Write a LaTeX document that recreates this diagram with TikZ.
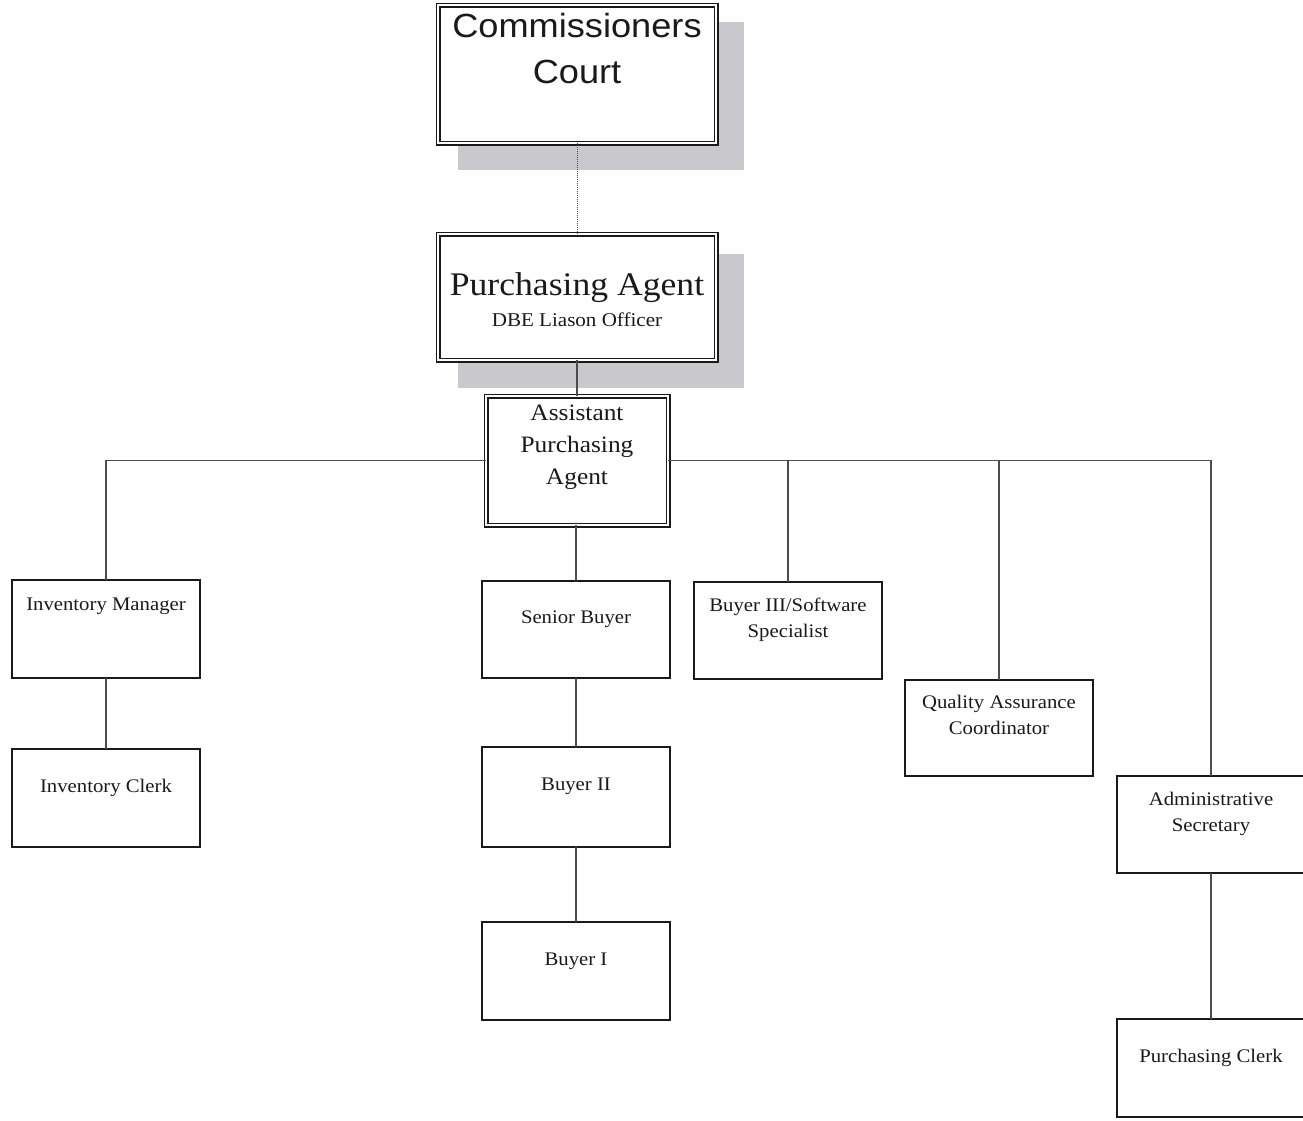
\documentclass[tikz,border=0pt]{standalone}
\usepackage{fontspec}
\setmainfont{Liberation Serif}[FakeStretch=1.08]
\newfontfamily\arialf{Liberation Sans}[FakeStretch=1.08]
\definecolor{shadowgray}{RGB}{200,200,205}
\definecolor{ink}{RGB}{26,26,26}
\begin{document}
\begin{tikzpicture}[x=1pt,y=-1pt,
  box/.style={draw=ink, line width=1.6pt, fill=white, inner sep=0pt, outer sep=0pt, minimum width=188pt},
  dbox/.style={draw=ink, line width=1.3pt, double=white, double distance=2.4pt, fill=white, inner sep=0pt, outer sep=0pt},
  conn/.style={draw=black!70, line width=1.3pt},
  dconn/.style={draw=black!70, line width=1pt, densely dotted},
  shadebox/.style={fill=shadowgray, draw=none},
  lbl/.style={inner sep=0pt, anchor=base, align=center, text=ink, font=\fontsize{19.2}{26}\selectfont},
]
\useasboundingbox (0,0) rectangle (1303,1120);
% shadows
\fill[shadebox] (458,22) rectangle (744,170);
\fill[shadebox] (458,254) rectangle (744,388);
% main boxes
\node[dbox, minimum width=278pt, minimum height=138pt] (cc) at (577,74) {};
\node[dbox, minimum width=278pt, minimum height=126pt] (pa) at (577,297) {};
\node[dbox, minimum width=182pt, minimum height=129pt] (apa) at (577,460.5) {};
\node[box, minimum height=98pt] (im) at (106,629) {};
\node[box, minimum height=98pt] (ic) at (106,798) {};
\node[box, minimum height=97pt] (sb) at (576,629.5) {};
\node[box, minimum height=100pt] (b2) at (576,797) {};
\node[box, minimum height=98pt] (b1) at (576,971) {};
\node[box, minimum height=97pt] (b3) at (788,630.5) {};
\node[box, minimum height=96pt] (qa) at (999,728) {};
\node[box, minimum height=97pt] (as) at (1211,824.5) {};
\node[box, minimum height=98pt] (pc) at (1211,1068) {};
% connectors
\draw[dconn] (cc.south) -- (pa.north);
\draw[conn] (pa.south) -- (apa.north);
\draw[conn] (apa.west) -| (im.north);
\draw[conn] (apa.east) -| (as.north);
\draw[conn] (b3.north) -- (b3.north |- apa.east);
\draw[conn] (qa.north) -- (qa.north |- apa.east);
\draw[conn] (sb.north) -- (sb.north |- apa.south);
\draw[conn] (im.south) -- (ic.north);
\draw[conn] (sb.south) -- (b2.north);
\draw[conn] (b2.south) -- (b1.north);
\draw[conn] (as.south) -- (pc.north);
% texts (base anchor = baseline of last line)
\node[lbl, font=\arialf\fontsize{33.5}{46}\selectfont] (cct) at (577,83) {Commissioners\\Court};
\node[lbl, font=\fontsize{33}{35}\selectfont] (pat) at (577,295) {Purchasing Agent};
\node[lbl, font=\fontsize{19.5}{22}\selectfont] (pat2) at (577,326) {DBE Liason Officer};
\node[lbl, font=\fontsize{23.5}{32}\selectfont] (apat) at (577,484) {Assistant\\Purchasing\\Agent};
\node[lbl] (imt) at (106,610) {Inventory Manager};
\node[lbl] (ict) at (106,792) {Inventory Clerk};
\node[lbl] (sbt) at (576,623) {Senior Buyer};
\node[lbl] (b2t) at (576,790) {Buyer II};
\node[lbl] (b1t) at (576,965) {Buyer I};
\node[lbl] (b3t) at (788,637) {Buyer III/Software\\Specialist};
\node[lbl] (qat) at (999,734) {Quality Assurance\\Coordinator};
\node[lbl] (ast) at (1211,831) {Administrative\\Secretary};
\node[lbl] (pct) at (1211,1062) {Purchasing Clerk};
\end{tikzpicture}
\end{document}
